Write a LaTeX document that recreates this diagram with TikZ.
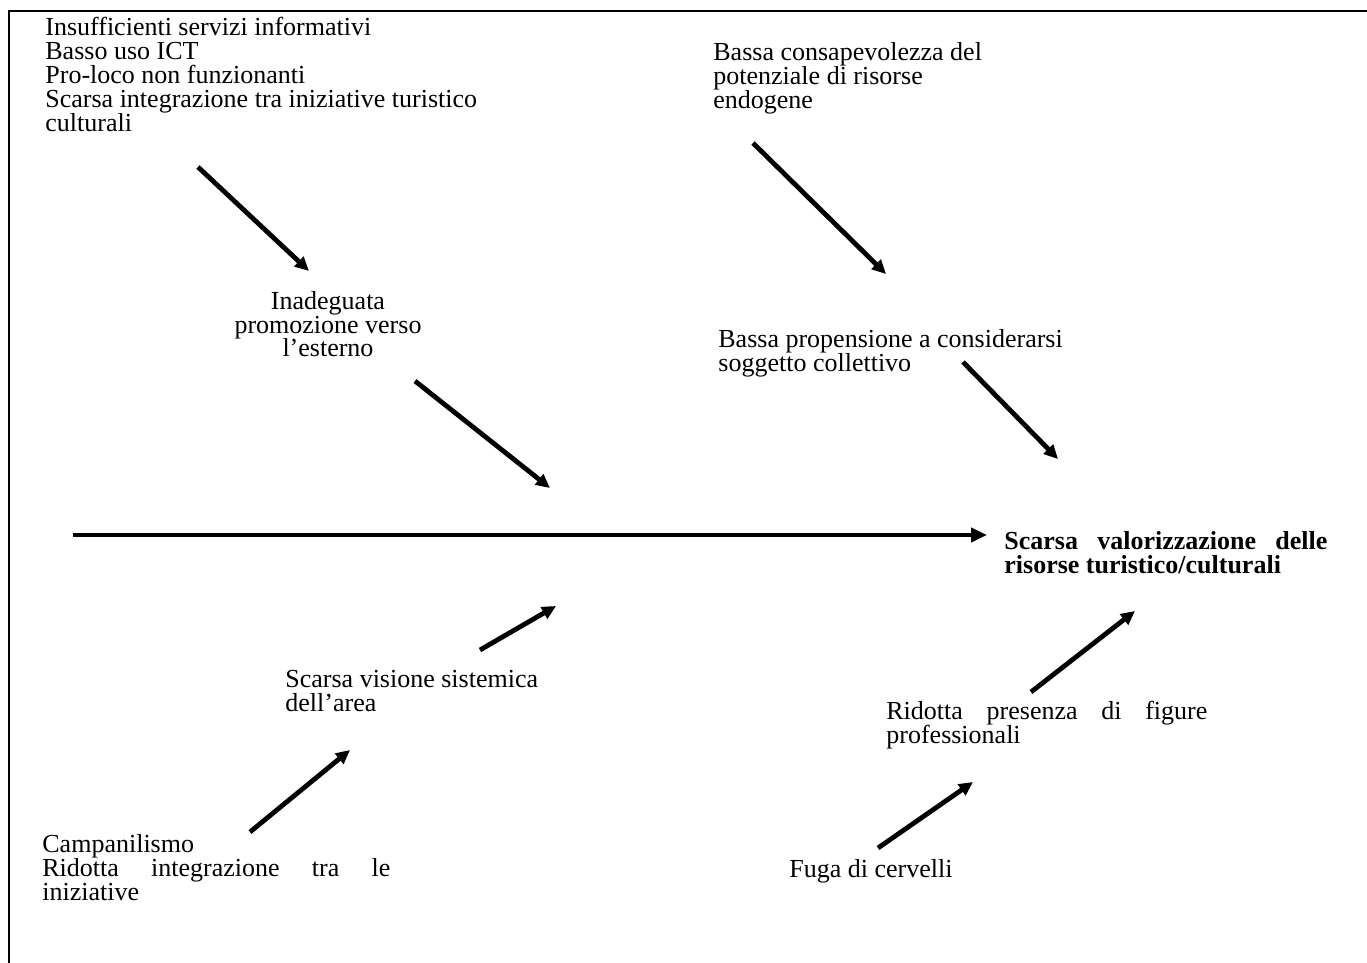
\documentclass[tikz,border=0pt]{standalone}
\usepackage{fontspec}
\setmainfont{Liberation Serif}
\usetikzlibrary{arrows.meta}
\tikzset{
  cause/.style={inner sep=0pt, align=left, font=\fontsize{13}{12}\selectfont},
  effect/.style={cause, font=\fontsize{13}{12}\selectfont\bfseries},
  spine/.style={line width=2.4pt, -{Triangle[length=8pt,width=7pt]}},
  bone/.style={line width=2.4pt, -{Triangle[length=7pt,width=6.5pt]}}
}
\begin{document}
\begin{tikzpicture}[x=0.5pt,y=-0.5pt]
        \useasboundingbox (0,0) rectangle (1367,963);
        %% Frame
        \draw[line width=1pt] (9,963) -- (9,11) -- (1367,11);
        %% Labels (base = last line)
        \node[cause,anchor=base west] (info) at (45,132)
            {Insufficienti servizi informativi\\Basso uso ICT\\Pro-loco non funzionanti\\Scarsa integrazione tra iniziative turistico\\culturali};
        \node[cause,anchor=base,align=center] (promo) at (328,357)
            {Inadeguata\\promozione verso\\l'esterno};
        \node[cause,anchor=base west] (consap) at (713,109)
            {Bassa consapevolezza del\\potenziale di risorse\\endogene};
        \node[cause,anchor=base west] (propens) at (718,371)
            {Bassa propensione a considerarsi\\soggetto collettivo};
        \node[effect,anchor=base west] (effetto) at (1004,573)
            {\makebox[161.5pt][s]{Scarsa valorizzazione delle}\\risorse turistico/culturali};
        \node[cause,anchor=base west] (visione) at (285,711)
            {Scarsa visione sistemica\\dell'area};
        \node[cause,anchor=base west] (figure) at (886,743)
            {\makebox[160.5pt][s]{Ridotta presenza di figure}\\professionali};
        \node[cause,anchor=base west] (campan) at (42,900)
            {Campanilismo\\\makebox[174pt][s]{Ridotta integrazione tra le}\\iniziative};
        \node[cause,anchor=base west] (fuga) at (789,877)
            {Fuga di cervelli};
        %% Arrow ends
        \coordinate (s0) at (73,535);   \coordinate (t0) at (987,535);
        \coordinate (s1) at (198,167);  \coordinate (t1) at (309,271);
        \coordinate (s2) at (415,381);  \coordinate (t2) at (550,488);
        \coordinate (s3) at (753,143);  \coordinate (t3) at (886,274);
        \coordinate (s4) at (963,362);  \coordinate (t4) at (1058,459);
        \coordinate (s5) at (480,650);  \coordinate (t5) at (556,606);
        \coordinate (s6) at (250,832);  \coordinate (t6) at (350,750);
        \coordinate (s7) at (1031,692); \coordinate (t7) at (1135,611);
        \coordinate (s8) at (878,848);  \coordinate (t8) at (973,782);
        %% Arrows
        \draw[spine] (s0) -- (t0);
        \foreach \i in {1,...,8}
            \draw[bone] (s\i) -- (t\i);
\end{tikzpicture}
\end{document}
